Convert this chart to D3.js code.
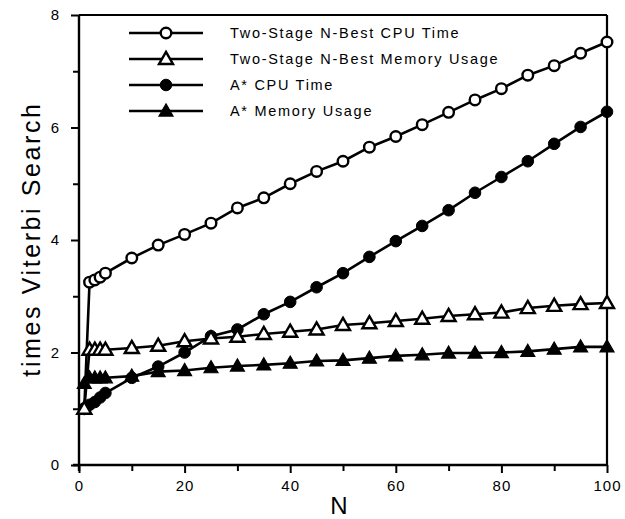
<!DOCTYPE html>
<html><head><meta charset="utf-8">
<script src="https://cdn.jsdelivr.net/npm/d3@7"></script>
<style>
body{margin:0;background:#fff;}
text{font-family:"Liberation Sans",Arial,sans-serif;fill:#000;}
</style></head>
<body>
<svg id="c" width="625" height="519"></svg>
<script>
const nValues = [1,2,3,4,5,10,15,20,25,30,35,40,45,50,55,60,65,70,75,80,85,90,95,100];
const twoStageCPU = [1.0,3.25,3.29,3.34,3.41,3.68,3.91,4.1,4.3,4.57,4.75,5.0,5.22,5.4,5.65,5.84,6.05,6.27,6.49,6.69,6.93,7.1,7.32,7.52];
const twoStageMem = [1.0,2.05,2.05,2.05,2.05,2.08,2.12,2.2,2.25,2.28,2.33,2.37,2.41,2.49,2.52,2.56,2.6,2.65,2.68,2.71,2.79,2.83,2.86,2.88];
const aStarCPU = [1.0,1.07,1.12,1.2,1.28,1.55,1.75,2.0,2.29,2.41,2.68,2.9,3.16,3.41,3.7,3.98,4.25,4.53,4.84,5.12,5.4,5.71,6.01,6.28];
const aStarMem = [1.45,1.55,1.55,1.55,1.55,1.58,1.66,1.68,1.73,1.76,1.78,1.81,1.85,1.86,1.9,1.94,1.96,1.99,1.99,2.0,2.02,2.06,2.1,2.1];
const seriesNames = ["Two-Stage N-Best CPU Time","Two-Stage N-Best Memory Usage","A* CPU Time","A* Memory Usage"];
const xTicks = [0,20,40,60,80,100];
const yTicks = [0,2,4,6,8];
const xLabel = "N";
const yLabel = "times Viterbi Search";

const svg = d3.select("#c");
const x = d3.scaleLinear().domain([0,100]).range([79,607]);
const y = d3.scaleLinear().domain([0,8]).range([465,15]);
const SW = 2.6;

const series = [
  {name:seriesNames[0], vals:twoStageCPU, shape:"circle", fill:"#fff"},
  {name:seriesNames[2], vals:aStarCPU, shape:"circle", fill:"#000"},
  {name:seriesNames[3], vals:aStarMem, shape:"triangle", fill:"#000"},
  {name:seriesNames[1], vals:twoStageMem, shape:"triangle", fill:"#fff"}
];

// frame top & right
svg.append("line").attr("x1",x(0)).attr("x2",x(100)).attr("y1",y(8)).attr("y2",y(8)).attr("stroke","#000").attr("stroke-width",2.2);
svg.append("line").attr("x1",x(100)).attr("x2",x(100)).attr("y1",y(8)).attr("y2",y(0)).attr("stroke","#000").attr("stroke-width",2.2);

// axes
const xAxis = d3.axisBottom(x).tickValues(d3.range(0,101,10)).tickSize(7).tickPadding(8)
  .tickFormat(d => xTicks.includes(d) ? String(d) : "");
const gx = svg.append("g").attr("transform",`translate(0,${y(0)})`).call(xAxis);
gx.select(".domain").attr("stroke-width",2.4).attr("d",`M${x(0)-6},0H${x(100)}`);
gx.selectAll(".tick line").attr("stroke-width",2).attr("y2",d=> xTicks.includes(d)?8:6);
gx.selectAll(".tick text").attr("font-size",15).attr("font-family","Liberation Sans, Arial, sans-serif").attr("letter-spacing",1);

const yAxis = d3.axisLeft(y).tickValues(d3.range(0,9,1)).tickSize(7).tickPadding(13)
  .tickFormat(d => yTicks.includes(d) ? String(d) : "");
const gy = svg.append("g").attr("transform",`translate(${x(0)},0)`).call(yAxis);
gy.select(".domain").attr("stroke-width",2.4).attr("d",`M0,${y(0)+6}V${y(8)}`);
gy.selectAll(".tick line").attr("stroke-width",2).attr("x2",d=> yTicks.includes(d)?-8:-6);
gy.selectAll(".tick text").attr("font-size",15).attr("font-family","Liberation Sans, Arial, sans-serif");

// axis titles
svg.append("text").attr("x",339).attr("y",514).attr("text-anchor","middle").attr("font-size",24).text(xLabel);
svg.append("text").attr("transform","translate(40,239) rotate(-90)").attr("text-anchor","middle")
  .attr("font-size",25).attr("letter-spacing",2.6).text(yLabel);

const line = d3.line().x((d,i)=>x(nValues[i])).y(d=>y(d));
const tri = d3.symbol().type(d3.symbolTriangle).size(85);

function drawMarker(g, shape, fill, cx, cy){
  if(shape==="circle"){
    g.append("circle").attr("cx",cx).attr("cy",cy).attr("r",fill==="#fff"?5.3:5.8)
      .attr("fill",fill).attr("stroke","#000").attr("stroke-width",fill==="#fff"?2.4:1);
  } else {
    g.append("path").attr("d",tri()).attr("transform",`translate(${cx},${cy+1})`)
      .attr("fill",fill).attr("stroke","#000").attr("stroke-width",fill==="#fff"?2.4:1.2);
  }
}

series.forEach(s=>{
  const g = svg.append("g");
  g.append("path").datum(s.vals).attr("d",line).attr("fill","none").attr("stroke","#000").attr("stroke-width",SW);
});
series.forEach(s=>{
  const g = svg.append("g");
  s.vals.forEach((v,i)=>drawMarker(g,s.shape,s.fill,x(nValues[i]),y(v)));
});

// legend
const legendOrder = [
  {name:seriesNames[0], shape:"circle", fill:"#fff"},
  {name:seriesNames[1], shape:"triangle", fill:"#fff"},
  {name:seriesNames[2], shape:"circle", fill:"#000"},
  {name:seriesNames[3], shape:"triangle", fill:"#000"}
];
const lg = svg.append("g");
legendOrder.forEach((s,i)=>{
  const ly = 33 + i*26;
  lg.append("line").attr("x1",129).attr("x2",203).attr("y1",ly).attr("y2",ly).attr("stroke","#000").attr("stroke-width",SW);
  drawMarker(lg,s.shape,s.fill,166,ly);
  lg.append("text").attr("x",230).attr("y",ly+5).attr("font-size",14.5).attr("letter-spacing",1.7).text(s.name);
});
</script>
</body></html>
